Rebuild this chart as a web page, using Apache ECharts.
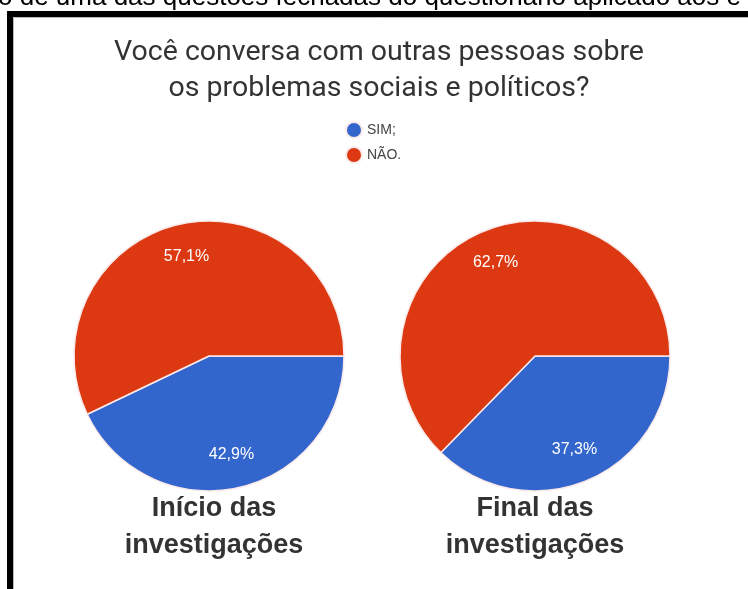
<!DOCTYPE html>
<html><head><meta charset="utf-8">
<script src="https://cdn.jsdelivr.net/npm/echarts@6/dist/echarts.min.js"></script>
<style>html,body{margin:0;padding:0;background:#fff}#c{width:748px;height:589px}</style>
</head><body><div id="c"></div>
<script>
const categories = ['SIM;', 'NÃO.'];
const inicioValues = [42.9, 57.1];
const finalValues = [37.3, 62.7];
const pieCaptions = ['Início das\ninvestigações', 'Final das\ninvestigações'];
const chartTitle = 'Você conversa com outras pessoas sobre\nos problemas sociais e políticos?';
const captionText = 'o de uma das questões fechadas do questionário aplicado aos e';
const colors = ['#3366CC', '#DC3912'];

const fmt = p => p.value.toFixed(1).replace('.', ',') + '%';
const mk = vals => categories.map((c, i) => ({ name: c, value: vals[i] }));

function pieSeries(vals, center) {
  return [
    {
      type: 'pie', center: center, radius: [0, 135], startAngle: 0, clockwise: true,
      data: mk(vals), label: { show: false }, labelLine: { show: false },
      itemStyle: { borderColor: '#fbe9e9', borderWidth: 1.5 },
      emphasis: { disabled: true }, animation: false
    },
    {
      type: 'pie', center: center, radius: [62, 135], startAngle: 0, clockwise: true,
      data: mk(vals), silent: true, animation: false,
      itemStyle: { color: 'transparent' },
      label: { show: true, position: 'inside', formatter: fmt, color: '#fff',
        fontFamily: 'Liberation Sans, Arial', fontSize: 16 },
      labelLine: { show: false }, emphasis: { disabled: true }
    }
  ];
}

const chart = echarts.init(document.getElementById('c'));
chart.setOption({
  backgroundColor: '#fff',
  color: colors,
  legend: {
    orient: 'vertical', left: 340, top: 116, icon: 'circle',
    itemWidth: 16, itemHeight: 16, itemGap: 7,
    data: categories,
    textStyle: { fontFamily: 'Liberation Sans, Arial', fontSize: 14, color: '#444' }
  },
  graphic: [
    { type: 'text', left: -2, top: -15, style: { text: captionText, fill: '#000',
      font: '26px "Liberation Sans", Arial' } },
    { type: 'rect', shape: { x: 10, y: 14, width: 760, height: 600 },
      style: { fill: null, stroke: '#000', lineWidth: 6 } },
    { type: 'rect', shape: { x: 13.5, y: 17.5, width: 760, height: 600 },
      style: { fill: null, stroke: '#bbb', lineWidth: 1 } },
    { type: 'text', x: 379, y: 35, style: { text: chartTitle, fill: '#333', align: 'center',
      font: '28.5px Roboto', lineHeight: 36 } },
    { type: 'text', x: 214, y: 490, style: { text: pieCaptions[0], fill: '#333', align: 'center',
      font: 'bold 27px "Liberation Sans", Arial', lineHeight: 37 } },
    { type: 'text', x: 535, y: 490, style: { text: pieCaptions[1], fill: '#333', align: 'center',
      font: 'bold 27px "Liberation Sans", Arial', lineHeight: 37 } }
  ],
  series: [
    ...pieSeries(inicioValues, [209, 356]),
    ...pieSeries(finalValues, [535, 356])
  ]
});
</script></body></html>
